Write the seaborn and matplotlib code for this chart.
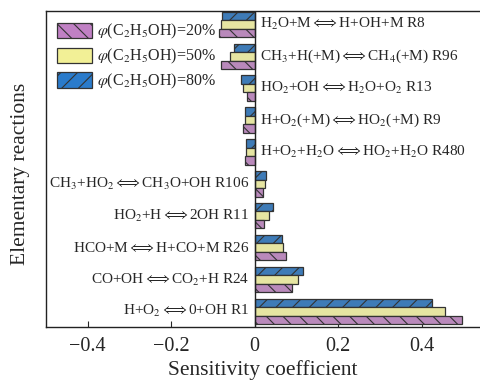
import matplotlib
matplotlib.use("Agg")
import matplotlib.pyplot as plt
import seaborn as sns
import pandas as pd
from matplotlib.patches import Patch

A = r"$\Longleftrightarrow$"
reactions = [
    r"H$_2$O+M" + A + r"H+OH+M R8",
    r"CH$_3$+H(+M)" + A + r"CH$_4$(+M) R96",
    r"HO$_2$+OH" + A + r"H$_2$O+O$_2$ R13",
    r"H+O$_2$(+M)" + A + r"HO$_2$(+M) R9",
    r"H+O$_2$+H$_2$O" + A + r"HO$_2$+H$_2$O R480",
    r"CH$_3$+HO$_2$" + A + r"CH$_3$O+OH R106",
    r"HO$_2$+H" + A + r"2OH R11",
    r"HCO+M" + A + r"H+CO+M R26",
    r"CO+OH" + A + r"CO$_2$+H R24",
    r"H+O$_2$" + A + r"0+OH R1",
]
series_names = [r"$\varphi$(C$_2$H$_5$OH)=20%",
                r"$\varphi$(C$_2$H$_5$OH)=50%",
                r"$\varphi$(C$_2$H$_5$OH)=80%"]
s20 = [-0.085, -0.081, -0.019, -0.027, -0.024, 0.020, 0.022, 0.074, 0.089, 0.498]
s50 = [-0.081, -0.060, -0.027, -0.023, -0.021, 0.024, 0.034, 0.069, 0.103, 0.455]
s80 = [-0.079, -0.049, -0.032, -0.023, -0.021, 0.026, 0.044, 0.065, 0.115, 0.424]

colors = {series_names[0]: "#c080c4", series_names[1]: "#f2f096", series_names[2]: "#2a7bcb"}
hatches = {series_names[0]: "\\\\", series_names[1]: "", series_names[2]: "//"}

rows = []
for name, vals in zip(series_names, [s20, s50, s80]):
    for r, v in zip(reactions, vals):
        rows.append({"reaction": r, "series": name, "value": v})
df = pd.DataFrame(rows)

sns.set_style("ticks")
plt.rcParams["font.family"] = ["Liberation Serif", "DejaVu Serif"]
plt.rcParams["mathtext.fontset"] = "stix"
plt.rcParams["hatch.linewidth"] = 0.8

fig = plt.figure(figsize=(4.8, 3.85), dpi=100)
ax = fig.add_axes([46/480, 58/385, 434/480, 316/385])

hue_order = [series_names[2], series_names[1], series_names[0]]
sns.barplot(data=df, x="value", y="reaction", hue="series", hue_order=hue_order,
            order=reactions, orient="h", palette=colors, width=0.8,
            edgecolor="#333333", linewidth=0.9, legend=False, ax=ax)

for cont, name in zip(ax.containers, hue_order):
    for bar in cont:
        bar.set_hatch(hatches[name])

for i, (r, v) in enumerate(zip(reactions, s20)):
    if v > 0:
        ax.annotate(r, xy=(0, i), xytext=(-4, 0), textcoords="offset points",
                    ha="right", va="center", fontsize=11)
    else:
        ax.annotate(r, xy=(0, i), xytext=(4, 0), textcoords="offset points",
                    ha="left", va="center", fontsize=11)

ax.axvline(0, color="#222222", lw=1.0, zorder=5)
ax.set_xlim(-0.5, 0.54)
ax.set_ylim(9.49, -0.42)
ax.set_yticks([])
ax.set_xticks([-0.4, -0.2, 0, 0.2, 0.4])
ax.set_xticklabels(["\u22120.4", "\u22120.2", "0", "0.2", "0.4"])
ax.tick_params(axis="x", direction="in", length=4, labelsize=14.5, pad=7.5)
ax.set_xlabel("Sensitivity coefficient", fontsize=15.5, labelpad=3)
ax.set_ylabel("Elementary reactions", fontsize=15.5)
ax.yaxis.set_label_coords(-0.038, 0.484)
ax.spines["right"].set_visible(False)
for s in ["left", "top", "bottom"]:
    ax.spines[s].set_color("#222222")
    ax.spines[s].set_linewidth(1.0)

handles = [Patch(facecolor=colors[n], edgecolor="#333333", hatch=hatches[n], linewidth=0.9)
           for n in series_names]
ax.legend(handles, series_names, loc="upper left", frameon=False, fontsize=11.5,
          handlelength=2.2, handleheight=1.1, labelspacing=0.35, handletextpad=0.3,
          borderaxespad=0.3, bbox_to_anchor=(0.0, 1.0))

fig.savefig("out.png", dpi=100)
